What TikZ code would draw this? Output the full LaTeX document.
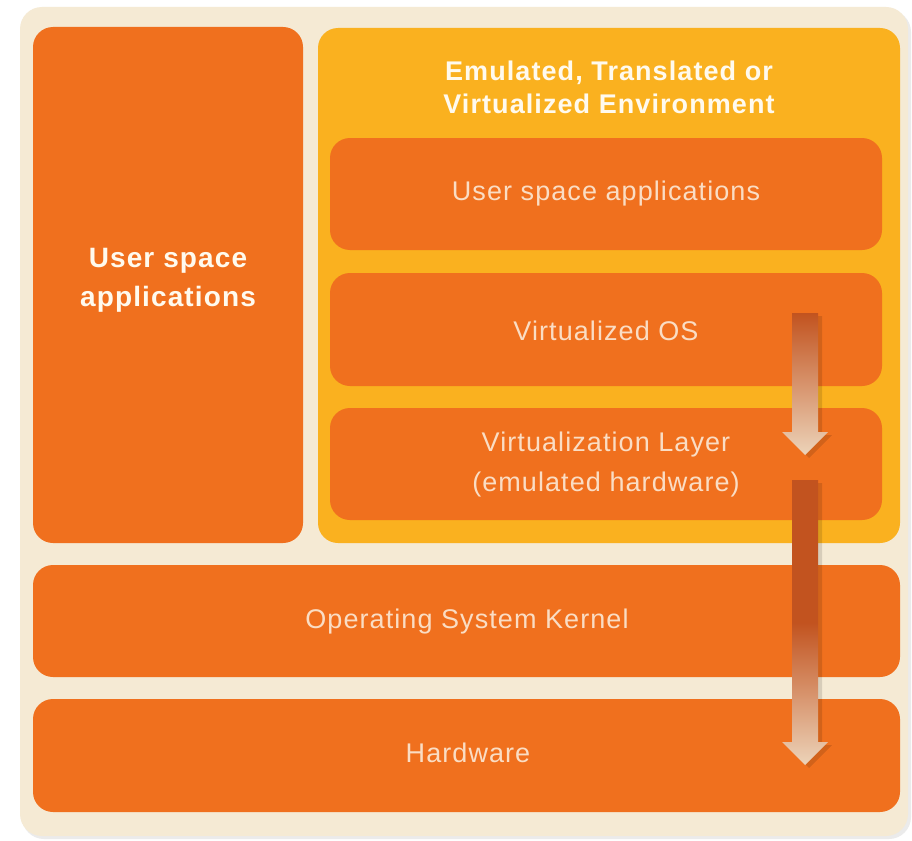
\documentclass[tikz,border=0pt]{standalone}
\usepackage{fontspec}
\setmainfont{Liberation Sans}[LetterSpace=4]
\usetikzlibrary{positioning}
\definecolor{cream}{HTML}{F5EAD4}
\definecolor{boxorange}{HTML}{F0701E}
\definecolor{envyellow}{HTML}{FAB11F}
\definecolor{arrowdark}{HTML}{C2531F}
\definecolor{arrowlight}{HTML}{ECD3B9}
\definecolor{paletext}{HTML}{FADDC4}
\definecolor{boldwhite}{HTML}{FFFAEE}
\tikzset{
  panel/.style={fill=cream, draw=none, rounded corners=22pt},
  box/.style={fill=boxorange, draw=none, rounded corners=20pt, inner sep=0pt},
  envbox/.style={fill=envyellow, draw=none, rounded corners=20pt, inner sep=0pt},
  boldtxt/.style={text=boldwhite, font=\bfseries\fontsize{28}{39}\selectfont, align=center},
  lighttxt/.style={text=paletext, font=\fontsize{27}{40}\selectfont, align=center},
}
\begin{document}
\begin{tikzpicture}[x=1pt,y=-1pt]
\useasboundingbox[fill=white] (0,0) rectangle (912,840);
% outer panel with soft shadow
\fill[black!8, rounded corners=22pt] (22,10) rectangle (911,839);
\node[panel, minimum width=888pt, minimum height=829pt] (panel) at (464,421.5) {};
% left user space box
\node[box, minimum width=270pt, minimum height=516pt] (leftbox) at (168,285) {};
\node[boldtxt] (lefttxt) at (168,280) {User space\\applications};
% environment
\node[envbox, minimum width=582pt, minimum height=515pt] (env) at (609,285.5) {};
\node[boldtxt, font=\bfseries\fontsize{27}{33}\selectfont] (envtxt) at (609,87) {Emulated, Translated or\\Virtualized Environment};
\node[box, minimum width=552pt, minimum height=112pt] (usr) at (606,194) {};
\node[lighttxt] (usrtxt) at (606,194) {User space applications};
\node[box, minimum width=552pt, minimum height=113pt] (vos) at (606,329.5) {};
\node[lighttxt] (vostxt) at (606,331) {Virtualized OS};
\node[box, minimum width=552pt, minimum height=112pt] (vlayer) at (606,464) {};
\node[lighttxt] (vltxt) at (606,465) {Virtualization Layer\\(emulated hardware)};
% kernel and hardware
\node[box, minimum width=867pt, minimum height=112pt] (kernel) at (466.5,621) {};
\node[lighttxt] (kerneltxt) at (467,622) {Operating System Kernel};
\node[box, minimum width=867pt, minimum height=113pt] (hw) at (466.5,755.5) {};
\node[lighttxt] (hwtxt) at (468,753) {Hardware};
% arrows: shadows
\fill[black, opacity=0.12] (796,316) -- (822,316) -- (822,435) -- (832,435) -- (809,458) -- (786,435) -- (796,435) -- cycle;
\fill[black, opacity=0.12] (796,483) -- (822,483) -- (822,745) -- (832,745) -- (809,768) -- (786,745) -- (796,745) -- cycle;
% arrow 1
\shade[top color=arrowdark, bottom color=arrowlight]
  (792,313) -- (818,313) -- (818,432) -- (828,432) -- (805,455) -- (782,432) -- (792,432) -- cycle;
% arrow 2
\shade[top color=arrowdark, bottom color=arrowlight, middle color=arrowdark]
  (792,480) -- (818,480) -- (818,742) -- (828,742) -- (805,765) -- (782,742) -- (792,742) -- cycle;
\end{tikzpicture}
\end{document}
